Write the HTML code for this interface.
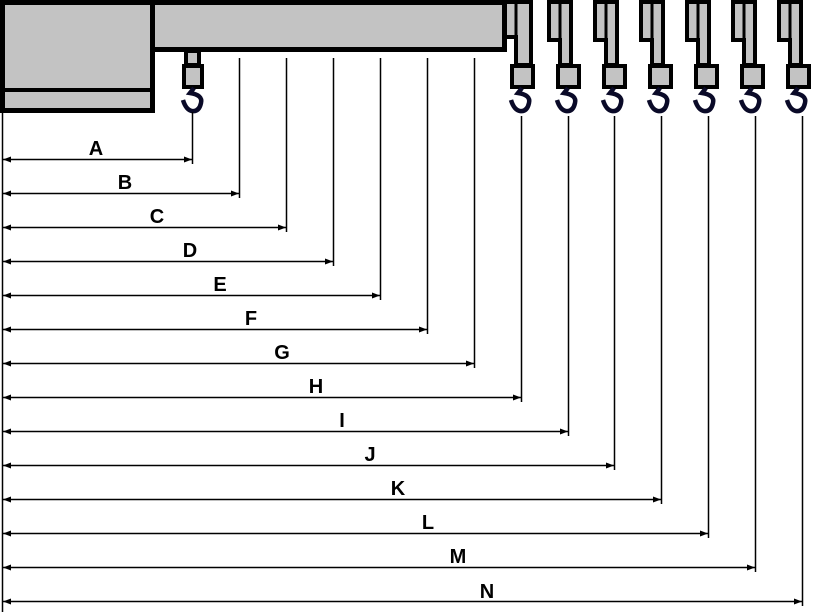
<!DOCTYPE html>
<html><head><meta charset="utf-8"><style>
html,body{margin:0;padding:0;background:#fff;}
svg{display:block}
text{font-family:"Liberation Sans",Arial,sans-serif;font-weight:bold;font-size:20px;fill:#000;text-anchor:middle}
</style></head><body>
<svg width="814" height="612" viewBox="0 0 814 612" xmlns="http://www.w3.org/2000/svg">
<defs>
<g id="hook"><path d="M0,88 L-4,93 Q9,95 7,103 Q5,112 -2,111 Q-8,110 -11,100" fill="none" stroke="#0a0a28" stroke-width="4.5"/></g>
<g id="unit">
  <path d="M2,2 L24,2 L24,65 L13,65 L13,40 L2,40 Z" fill="#c3c3c3" stroke="#000" stroke-width="4"/>
  <line x1="13" y1="2" x2="13" y2="40" stroke="#000" stroke-width="3"/>
  <rect x="11" y="66" width="21" height="21" fill="#c3c3c3" stroke="#000" stroke-width="4"/>
  <g transform="translate(21,0)"><use href="#hook"/></g>
</g>
</defs>
<!-- main body -->
<rect x="2.5" y="2.5" width="150" height="108" fill="#c3c3c3" stroke="#000" stroke-width="5"/>
<line x1="2" y1="90" x2="153" y2="90" stroke="#000" stroke-width="4"/>
<rect x="152.5" y="2.5" width="352" height="47" fill="#c3c3c3" stroke="#000" stroke-width="5"/>
<!-- first hook -->
<rect x="186" y="51" width="13" height="14" fill="#c3c3c3" stroke="#000" stroke-width="4"/>
<rect x="184" y="66" width="18" height="21" fill="#c3c3c3" stroke="#000" stroke-width="4"/>
<g transform="translate(194,0)"><use href="#hook"/></g>
<!-- first hook unit attached to boom -->
<path d="M507,2 L531,2 L531,65 L516,65 L516,37 L507,37" fill="#c3c3c3" stroke="#000" stroke-width="4"/>
<line x1="516" y1="2" x2="516" y2="37" stroke="#000" stroke-width="3"/>
<rect x="512" y="66" width="21" height="21" fill="#c3c3c3" stroke="#000" stroke-width="4"/>
<g transform="translate(522,0)"><use href="#hook"/></g>
<use href="#unit" transform="translate(547,0)"/>
<use href="#unit" transform="translate(593,0)"/>
<use href="#unit" transform="translate(639,0)"/>
<use href="#unit" transform="translate(685,0)"/>
<use href="#unit" transform="translate(731,0)"/>
<use href="#unit" transform="translate(777,0)"/>
<!-- left ref line -->
<line x1="2.5" y1="112" x2="2.5" y2="612" stroke="#000" stroke-width="1.5"/>
<g stroke="#000" stroke-width="1.5">
<line x1="192.5" y1="112" x2="192.5" y2="164"/>
<line x1="239.5" y1="58" x2="239.5" y2="198"/>
<line x1="286.5" y1="58" x2="286.5" y2="232"/>
<line x1="333.5" y1="58" x2="333.5" y2="266"/>
<line x1="380.5" y1="58" x2="380.5" y2="300"/>
<line x1="427.5" y1="58" x2="427.5" y2="334"/>
<line x1="474.5" y1="58" x2="474.5" y2="368"/>
<line x1="521.5" y1="116" x2="521.5" y2="402"/>
<line x1="568.5" y1="116" x2="568.5" y2="436"/>
<line x1="614.5" y1="116" x2="614.5" y2="470"/>
<line x1="661.5" y1="116" x2="661.5" y2="504"/>
<line x1="708.5" y1="116" x2="708.5" y2="538"/>
<line x1="755.5" y1="116" x2="755.5" y2="572"/>
<line x1="802.5" y1="116" x2="802.5" y2="606"/>
</g>
<g stroke="#000" stroke-width="1.5">
<line x1="3" y1="159.5" x2="192" y2="159.5"/>
<line x1="3" y1="193.5" x2="239" y2="193.5"/>
<line x1="3" y1="227.5" x2="286" y2="227.5"/>
<line x1="3" y1="261.5" x2="333" y2="261.5"/>
<line x1="3" y1="295.5" x2="380" y2="295.5"/>
<line x1="3" y1="329.5" x2="427" y2="329.5"/>
<line x1="3" y1="363.5" x2="474" y2="363.5"/>
<line x1="3" y1="397.5" x2="521" y2="397.5"/>
<line x1="3" y1="431.5" x2="568" y2="431.5"/>
<line x1="3" y1="465.5" x2="614" y2="465.5"/>
<line x1="3" y1="499.5" x2="661" y2="499.5"/>
<line x1="3" y1="533.5" x2="708" y2="533.5"/>
<line x1="3" y1="567.5" x2="755" y2="567.5"/>
<line x1="3" y1="601.5" x2="802" y2="601.5"/>
</g>
<g fill="#000">
<path d="M3,159.5 l8,-3 v6z M192,159.5 l-8,-3 v6z"/>
<path d="M3,193.5 l8,-3 v6z M239,193.5 l-8,-3 v6z"/>
<path d="M3,227.5 l8,-3 v6z M286,227.5 l-8,-3 v6z"/>
<path d="M3,261.5 l8,-3 v6z M333,261.5 l-8,-3 v6z"/>
<path d="M3,295.5 l8,-3 v6z M380,295.5 l-8,-3 v6z"/>
<path d="M3,329.5 l8,-3 v6z M427,329.5 l-8,-3 v6z"/>
<path d="M3,363.5 l8,-3 v6z M474,363.5 l-8,-3 v6z"/>
<path d="M3,397.5 l8,-3 v6z M521,397.5 l-8,-3 v6z"/>
<path d="M3,431.5 l8,-3 v6z M568,431.5 l-8,-3 v6z"/>
<path d="M3,465.5 l8,-3 v6z M614,465.5 l-8,-3 v6z"/>
<path d="M3,499.5 l8,-3 v6z M661,499.5 l-8,-3 v6z"/>
<path d="M3,533.5 l8,-3 v6z M708,533.5 l-8,-3 v6z"/>
<path d="M3,567.5 l8,-3 v6z M755,567.5 l-8,-3 v6z"/>
<path d="M3,601.5 l8,-3 v6z M802,601.5 l-8,-3 v6z"/>
</g>
<text x="96" y="155">A</text>
<text x="125" y="189">B</text>
<text x="157" y="223">C</text>
<text x="190" y="257">D</text>
<text x="220" y="291">E</text>
<text x="251" y="325">F</text>
<text x="282" y="359">G</text>
<text x="316" y="393">H</text>
<text x="342" y="427">I</text>
<text x="370" y="461">J</text>
<text x="398" y="495">K</text>
<text x="428" y="529">L</text>
<text x="458" y="563">M</text>
<text x="487" y="598">N</text>
</svg>
</body></html>
